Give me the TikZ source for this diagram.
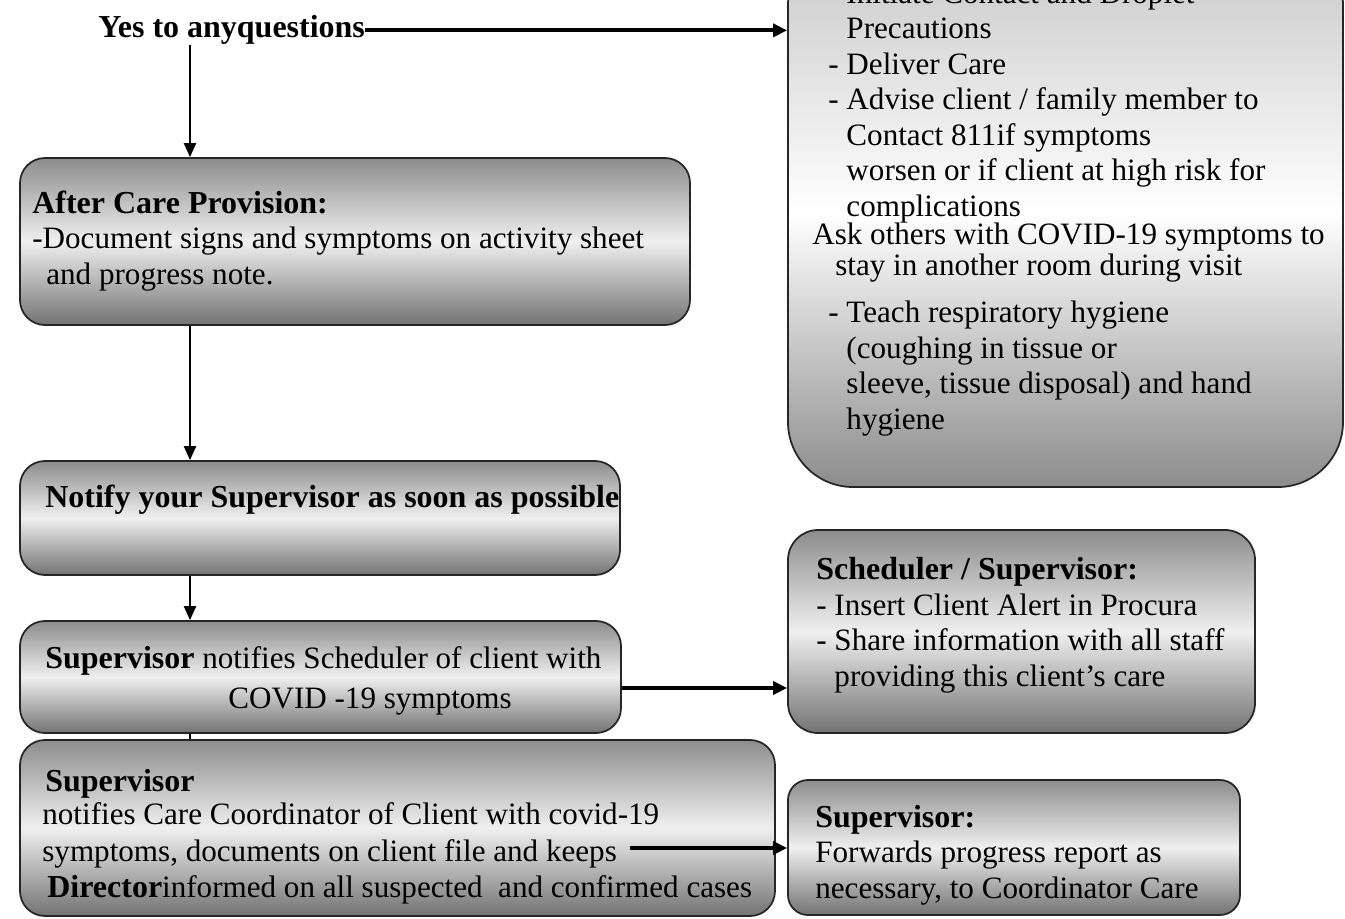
\documentclass[tikz,border=0pt]{standalone}
\usepackage{fontspec}
\setmainfont{Liberation Serif}
\usetikzlibrary{arrows.meta}
\newcommand\hd[1]{{\fontsize{18.2}{20.2}\selectfont\bfseries #1}}

\begin{document}
\begin{tikzpicture}[
				x=0.2mm, y=0.2mm,
				box/.style={draw=black!85,line width=1pt,rounded corners=5mm,top color=black!45,bottom color=black!55,middle color=white!94!black},
				txt/.style={anchor=base west,align=left,inner sep=0pt,font={\fontsize{17.7}{20.2}\selectfont}},
				arr/.style={-{Triangle[length=2.8mm,width=2.4mm]},line width=1.4pt},
				arrw/.style={-{Triangle[length=2.8mm,width=2.6mm]},line width=2.2pt}]
				\useasboundingbox (0,0) rectangle (1345,-919);
				% boxes
				\node [box,minimum width=134mm,minimum height=33.4mm] (after) at (355,-241.5) {};
				\node [box,minimum width=120mm,minimum height=22.8mm] (notify) at (320,-518) {};
				\node [box,minimum width=120.2mm,minimum height=22.4mm] (sched) at (320.5,-677) {};
				\node [box,minimum width=151mm,minimum height=35.2mm] (coord) at (397.5,-828) {};
				\node [box,rounded corners=13mm,top color=black!22,bottom color=black!45,middle color=white,
					minimum width=111mm,minimum height=109.4mm] (care) at (1065.5,-213.5) {};
				\node [box,rounded corners=6mm,minimum width=93.4mm,minimum height=40.6mm] (alert) at (1021.5,-631.5) {};
				\node [box,rounded corners=4mm,minimum width=90.4mm,minimum height=27mm] (fwd) at (1014,-847.5) {};
				% texts (anchored at the baseline of their last line)
				\node [txt] (yes) at (98,-38) {\hd{Yes to anyquestions}};
				\node [txt] (afterT) at (32,-284) {\hd{After Care Provision:}\\-Document signs and symptoms on activity sheet\\ \hspace*{2.8mm}and progress note.};
				\node [txt] (notifyT) at (45,-507) {\hd{Notify your Supervisor as soon as possible}};
				\node [txt] (schedT) at (45,-708) {\hd{Supervisor} notifies Scheduler of client with\\[2pt] \hspace*{36.6mm}COVID -19 symptoms};
				\node [txt] (coordT) at (42,-897) {\hspace*{0.6mm}\hd{Supervisor}\\[-1.5pt] notifies Care Coordinator of Client with covid-19\\[1pt]
					symptoms, documents on client file and keeps\\ \hspace*{1mm}\hd{Director}informed on all suspected\ \ and confirmed cases};
				\node [txt] (careT) at (828,-216) {\phantom{- }Initiate Contact and Droplet\\ \phantom{- }Precautions\\ - Deliver Care\\ - Advise client / family member to\\
					\phantom{- }Contact 811if symptoms\\ \phantom{- }worsen or if client at high risk for\\ \phantom{- }complications};
				\node [txt] (askT) at (812,-275) {Ask others with COVID-19 symptoms to\\[-3.1pt] \hspace*{4.6mm}stay in another room during visit};
				\node [txt] (teachT) at (828,-429) {- Teach respiratory hygiene\\ \phantom{- }(coughing in tissue or\\ \phantom{- }sleeve, tissue disposal) and hand\\ \phantom{- }hygiene};
				\node [txt] (alertT) at (816,-686) {\hd{Scheduler / Supervisor:}\\ - Insert Client Alert in Procura\\ - Share information with all staff\\ \phantom{- }providing this client's care};
				\node [txt] (fwdT) at (815,-898) {\hd{Supervisor:}\\ Forwards progress report as\\ necessary, to Coordinator Care};
				% connectors
				\coordinate (spine) at (190,0);
				\coordinate (keeps) at (630,-848);
				\draw [arrw] (yes.east) -- (yes.east -| care.west);
				\draw [arr] (yes.south -| spine) -- (after.north -| spine);
				\draw [arr] (after.south -| spine) -- (notify.north -| spine);
				\draw [arr] (notify.south -| spine) -- (sched.north -| spine);
				\draw [line width=1.4pt] (sched.south -| spine) -- (coord.north -| spine);
				\draw [arrw] ([yshift=-2.2mm]sched.east) -- ([yshift=-2.2mm]sched.east -| alert.west);
				\draw [arrw] (keeps) -- (keeps -| fwd.west);
			\end{tikzpicture}
\end{document}
